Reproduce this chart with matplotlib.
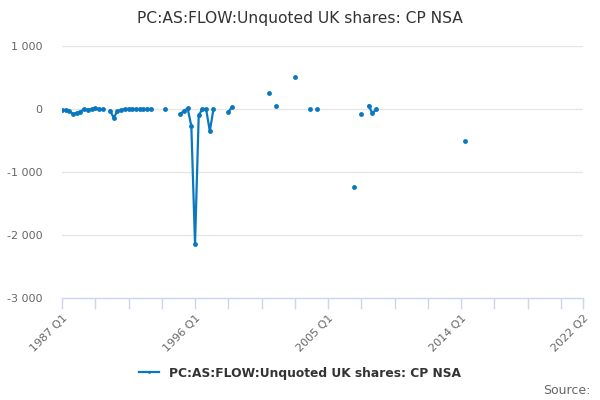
import numpy as np
import matplotlib
matplotlib.use('Agg')
import matplotlib.pyplot as plt

plt.rcParams['font.family'] = ['DejaVu Sans']

title = 'PC:AS:FLOW:Unquoted UK shares: CP NSA'

# observed quarters and values (GBP m), gaps are missing quarters
obs_quarters = [
    '1987 Q1', '1987 Q2', '1987 Q3', '1987 Q4', '1988 Q1', '1988 Q2',
    '1988 Q3', '1988 Q4', '1989 Q1', '1989 Q2', '1989 Q3', '1989 Q4',
    '1990 Q2', '1990 Q3', '1990 Q4', '1991 Q1', '1991 Q2', '1991 Q3',
    '1991 Q4', '1992 Q1', '1992 Q2', '1992 Q3', '1992 Q4', '1993 Q1',
    '1994 Q1',
    '1995 Q1', '1995 Q2', '1995 Q3', '1995 Q4', '1996 Q1', '1996 Q2',
    '1996 Q3', '1996 Q4', '1997 Q1', '1997 Q2',
    '1998 Q2', '1998 Q3',
    '2001 Q1', '2001 Q3', '2002 Q4', '2003 Q4', '2004 Q2',
    '2006 Q4', '2007 Q2', '2007 Q4', '2008 Q1', '2008 Q2',
    '2014 Q2',
]
obs_values = [
    -20, -10, -30, -80, -60, -40, 0, -10, 0, 10, 0, 0,
    -25, -140, -30, -20, 0, 0, 0, 0, 0, 0, 0, 0,
    0,
    -80, -30, 10, -270, -2140, -100, 0, 0, -350, 0,
    -50, 30,
    250, 40, 510, 5, 5,
    -1240, -80, 55, -70, -5,
    -510,
]

# full quarterly category axis 1987 Q1 .. 2022 Q2
categories = [f'{y} Q{q}' for y in range(1987, 2023) for q in range(1, 5)]
categories = categories[:categories.index('2022 Q2') + 1]

series = np.full(len(categories), np.nan)
for qtr, v in zip(obs_quarters, obs_values):
    series[categories.index(qtr)] = v

line_col = '#0a78bf'
grid_col = '#e6e6e6'
axis_col = '#ccd6eb'
txt_col = '#333333'
lab_col = '#666666'

fig = plt.figure(figsize=(6, 4), dpi=100)
ax = fig.add_axes([62/600, 102/400, 521/600, 252/400])

x = np.arange(len(categories))
ax.plot(x, series, '-o', color=line_col, lw=1.6, ms=3.5, mew=0, zorder=3)

ax.set_xlim(0, len(categories) - 1)
ax.set_ylim(-3000, 1000)

yt = [-3000, -2000, -1000, 0, 1000]
ax.set_yticks(yt)
ax.set_yticklabels([f'{v:,}'.replace(',', ' ') for v in yt], color=lab_col, fontsize=8)
ax.tick_params(axis='y', length=0, pad=14)
for v in yt[1:]:
    ax.axhline(v, color=grid_col, lw=1, zorder=1)

last = len(categories) - 1
xt = list(range(0, last, 9)) + [last]
ax.set_xticks(xt)
ax.set_xticklabels([categories[i] if (i % 36 == 0 or i == last) else '' for i in xt],
                   rotation=45, ha='right', va='top', rotation_mode='anchor',
                   color=lab_col, fontsize=8)
ax.tick_params(axis='x', length=8, width=1, color=axis_col, pad=3)

for s in ['top', 'right', 'left']:
    ax.spines[s].set_visible(False)
ax.spines['bottom'].set_color(axis_col)
ax.spines['bottom'].set_linewidth(1)

fig.text(0.5, 1 - 19/400, title, ha='center', va='center', fontsize=11.2, color=txt_col)

leg = ax.legend([ax.lines[0]], [title], loc='center', bbox_to_anchor=(0.5, 27/400),
                bbox_transform=fig.transFigure, frameon=False, handlelength=1.6,
                prop={'weight': 'bold', 'size': 8.8})
for t in leg.get_texts():
    t.set_color(txt_col)
leg.legend_handles[0].set_markersize(2)

fig.text(590/600, 1 - 391/400, 'Source:', ha='right', va='center', fontsize=9, color=lab_col)

fig.savefig('out.png', dpi=100)
